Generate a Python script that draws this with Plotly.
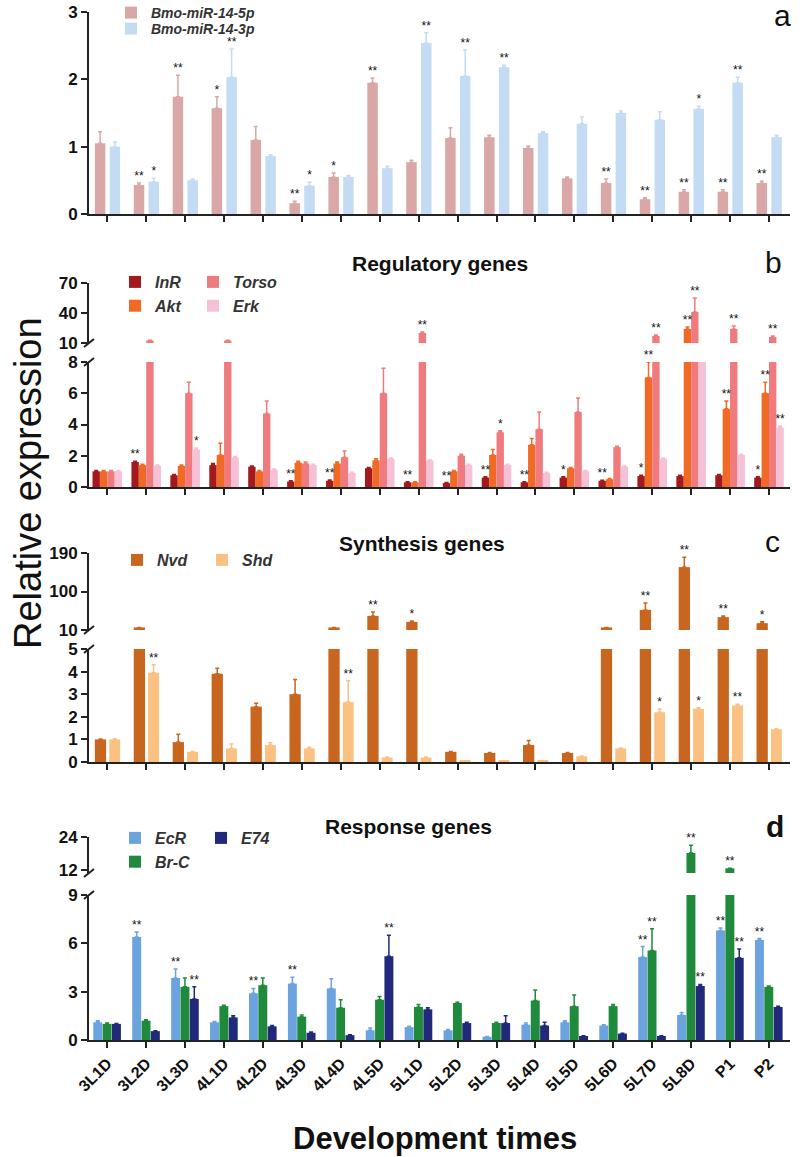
import plotly.graph_objects as go

times = ['3L1D', '3L2D', '3L3D', '4L1D', '4L2D', '4L3D', '4L4D', '4L5D', '5L1D',
         '5L2D', '5L3D', '5L4D', '5L5D', '5L6D', '5L7D', '5L8D', 'P1', 'P2']

# panel a - miRNAs
mir5p = [1.05, 0.43, 1.74, 1.57, 1.10, 0.16, 0.55, 1.95, 0.77, 1.13, 1.14, 0.98, 0.53, 0.46, 0.22, 0.33, 0.33, 0.46]
mir5p_err = [0.17, 0.03, 0.32, 0.17, 0.20, 0.03, 0.06, 0.07, 0.03, 0.15, 0.03, 0.03, 0.02, 0.06, 0.02, 0.03, 0.03, 0.03]
mir5p_sig = ['', '**', '**', '*', '', '**', '*', '**', '', '', '', '', '', '**', '**', '**', '**', '**']
mir3p = [1.00, 0.48, 0.50, 2.03, 0.86, 0.42, 0.55, 0.68, 2.54, 2.05, 2.18, 1.20, 1.34, 1.50, 1.40, 1.56, 1.95, 1.14]
mir3p_err = [0.07, 0.05, 0.02, 0.42, 0.02, 0.05, 0.02, 0.03, 0.15, 0.39, 0.03, 0.02, 0.10, 0.03, 0.12, 0.04, 0.08, 0.03]
mir3p_sig = ['', '*', '', '**', '', '*', '', '', '**', '**', '**', '', '', '', '', '*', '**', '']

# panel b - regulatory genes
inr = [1.0, 1.6, 0.75, 1.4, 1.3, 0.35, 0.4, 1.2, 0.3, 0.25, 0.6, 0.3, 0.6, 0.4, 0.7, 0.7, 0.75, 0.6]
inr_err = [0.05, 0.05, 0.05, 0.1, 0.05, 0.05, 0.05, 0.05, 0.03, 0.03, 0.05, 0.03, 0.05, 0.03, 0.05, 0.05, 0.05, 0.05]
inr_sig = ['', '**', '', '', '', '**', '**', '', '**', '**', '**', '**', '*', '**', '*', '', '', '*']
akt = [1.0, 1.4, 1.35, 2.05, 1.0, 1.55, 1.5, 1.7, 0.3, 1.0, 2.05, 2.7, 1.2, 0.5, 7.0, 24, 5.0, 6.0]
akt_err = [0.05, 0.05, 0.05, 0.75, 0.05, 0.1, 0.1, 0.1, 0.03, 0.05, 0.35, 0.4, 0.05, 0.05, 1.0, 2.0, 0.5, 0.7]
akt_sig = ['', '', '', '', '', '', '', '', '', '', '', '', '', '', '**', '**', '**', '**']
torso = [1.0, 12.5, 6.0, 12.5, 4.7, 1.5, 1.9, 6.0, 20, 2.0, 3.5, 3.7, 4.8, 2.55, 17, 41, 24, 16]
torso_err = [0.05, 0.3, 0.7, 0.3, 0.8, 0.1, 0.4, 1.6, 1.0, 0.1, 0.1, 1.1, 0.9, 0.05, 1.0, 14, 3.0, 1.0]
torso_sig = ['', '', '', '', '', '', '', '', '**', '', '*', '', '', '', '**', '**', '**', '**']
erk = [1.0, 1.35, 2.4, 1.9, 1.1, 1.4, 0.9, 1.8, 1.7, 1.4, 1.4, 0.9, 1.0, 1.3, 1.8, 9.0, 2.05, 3.8]
erk_err = [0.05, 0.05, 0.1, 0.05, 0.05, 0.05, 0.05, 0.05, 0.05, 0.05, 0.05, 0.05, 0.05, 0.05, 0.05, 0.3, 0.05, 0.1]
erk_sig = ['', '', '*', '', '', '', '', '', '', '', '', '', '', '', '', '**', '', '**']

# panel c - synthesis genes
nvd = [1.0, 16, 0.88, 3.9, 2.45, 3.0, 16, 43, 29, 0.45, 0.4, 0.75, 0.4, 16, 57, 157, 40, 26]
nvd_err = [0.02, 0, 0.35, 0.25, 0.15, 0.65, 0, 9, 2, 0.02, 0.02, 0.2, 0.02, 0, 16, 23, 3, 3]
nvd_sig = ['', '', '', '', '', '', '', '**', '*', '', '', '', '', '', '**', '**', '**', '*']
shd = [1.0, 3.95, 0.45, 0.6, 0.75, 0.6, 2.65, 0.2, 0.2, 0.05, 0.05, 0.05, 0.25, 0.6, 2.2, 2.35, 2.5, 1.45]
shd_err = [0.03, 0.35, 0.02, 0.2, 0.1, 0.05, 0.95, 0.02, 0.02, 0, 0, 0, 0.02, 0.02, 0.15, 0.05, 0.05, 0.02]
shd_sig = ['', '**', '', '', '', '', '**', '', '', '', '', '', '', '', '*', '*', '**', '']

# panel d - response genes
ecr = [1.1, 6.4, 3.85, 1.1, 2.9, 3.5, 3.2, 0.6, 0.8, 0.6, 0.2, 0.95, 1.1, 0.9, 5.15, 1.55, 6.8, 6.2]
ecr_err = [0.1, 0.3, 0.55, 0.05, 0.3, 0.4, 0.6, 0.15, 0.05, 0.05, 0.02, 0.1, 0.1, 0.05, 0.65, 0.15, 0.15, 0.1]
ecr_sig = ['', '**', '**', '', '**', '**', '', '', '', '', '', '', '', '', '**', '', '**', '**']
brc = [1.0, 1.2, 3.3, 2.1, 3.4, 1.45, 2.0, 2.5, 2.05, 2.3, 1.05, 2.45, 2.1, 2.1, 5.55, 18.2, 12.6, 3.3]
brc_err = [0.05, 0.05, 0.55, 0.05, 0.45, 0.1, 0.5, 0.2, 0.15, 0.05, 0.05, 0.65, 0.7, 0.1, 1.35, 2.8, 0, 0.05]
brc_sig = ['', '', '', '', '', '', '', '', '', '', '', '', '', '', '**', '**', '**', '']
e74 = [1.0, 0.55, 2.55, 1.4, 0.85, 0.45, 0.3, 5.2, 1.9, 1.05, 1.05, 0.9, 0.25, 0.4, 0.25, 3.35, 5.1, 2.05]
e74_err = [0.03, 0.02, 0.75, 0.1, 0.05, 0.05, 0.02, 1.3, 0.1, 0.05, 0.45, 0.2, 0.02, 0.02, 0.02, 0.1, 0.55, 0.05]
e74_sig = ['', '', '**', '', '', '', '', '**', '', '', '', '', '', '', '', '**', '**', '']

W, H = 800, 1157
FONT = 'Liberation Sans, Arial, sans-serif'
AX = '#222222'
idx = list(range(len(times)))


def px(x):
    return x / W


def py(y):
    return 1 - y / H


fig = go.Figure()

# (name, values, errors, marks, colour, left offset, width, x axis, lower y, upper y, break value, legend)
series = [
    ('Bmo-miR-14-5p', mir5p, mir5p_err, mir5p_sig, '#D9A8A6', -0.32, 0.27, 'x', 'y', None, None, 'legend'),
    ('Bmo-miR-14-3p', mir3p, mir3p_err, mir3p_sig, '#C3DCF3', 0.06, 0.27, 'x', 'y', None, None, 'legend2'),
    ('InR', inr, inr_err, inr_sig, '#A3191E', -0.38, 0.19, 'x2', 'y2', 'y3', 10, 'legend3'),
    ('Akt', akt, akt_err, akt_sig, '#F06A25', -0.19, 0.19, 'x2', 'y2', 'y3', 10, 'legend3'),
    ('Torso', torso, torso_err, torso_sig, '#EF7B7E', 0.0, 0.19, 'x2', 'y2', 'y3', 10, 'legend4'),
    ('Erk', erk, erk_err, erk_sig, '#F6C0D6', 0.19, 0.19, 'x2', 'y2', 'y3', 10, 'legend4'),
    ('Nvd', nvd, nvd_err, nvd_sig, '#C8651E', -0.32, 0.29, 'x3', 'y4', 'y5', 10, 'legend5'),
    ('Shd', shd, shd_err, shd_sig, '#FBC183', 0.05, 0.28, 'x3', 'y4', 'y5', 10, 'legend5'),
    ('EcR', ecr, ecr_err, ecr_sig, '#6BA3DF', -0.36, 0.23, 'x4', 'y6', 'y7', 11, 'legend6'),
    ('Br-C', brc, brc_err, brc_sig, '#1F8A3C', -0.12, 0.23, 'x4', 'y6', 'y7', 11, 'legend6'),
    ('E74', e74, e74_err, e74_sig, '#20297A', 0.12, 0.23, 'x4', 'y6', 'y7', 11, 'legend7'),
]

for name, vals, errs, sigs, col, off, wd, xa, ylo, yup, brk, lg in series:
    err = dict(type='data', array=errs, arrayminus=[0] * len(errs), symmetric=False,
               color=col, thickness=1.5, width=2)
    fig.add_trace(go.Bar(x=idx, y=vals, offset=off, width=wd, marker_color=col, marker_line_width=0,
                         error_y=err, name='<b><i>' + name + '</i></b>', legend=lg,
                         xaxis=xa, yaxis=ylo, hoverinfo='skip'))
    if yup:
        fig.add_trace(go.Bar(x=idx, y=vals, offset=off, width=wd, marker_color=col, marker_line_width=0,
                             error_y=err, showlegend=False, xaxis=xa, yaxis=yup, hoverinfo='skip'))
    # significance marks
    lo_x, lo_y, lo_t, up_x, up_y, up_t = [], [], [], [], [], []
    for i, (v, e, s) in enumerate(zip(vals, errs, sigs)):
        if not s:
            continue
        top = v + e
        if yup and top > brk:
            up_x.append(i + off + wd / 2); up_y.append(top); up_t.append(s)
        else:
            lo_x.append(i + off + wd / 2); lo_y.append(top); lo_t.append(s)
    for xs, ys, ts, ya in ((lo_x, lo_y, lo_t, ylo), (up_x, up_y, up_t, yup)):
        if xs:
            fig.add_trace(go.Scatter(x=xs, y=ys, text=ts, mode='text', textposition='top center',
                                     textfont=dict(family=FONT, size=12, color='#111'),
                                     cliponaxis=False, showlegend=False, hoverinfo='skip',
                                     xaxis=xa, yaxis=ya))

tickfont = dict(family=FONT, size=17, color='#111', weight='bold')
X0, X1 = 89, 790


def yaxis(bottom, top, rng, ticks, anchor):
    return dict(domain=[py(bottom), py(top)], range=rng, tickvals=ticks, anchor=anchor, automargin=False,
                showline=True, linecolor=AX, linewidth=2, ticks='outside', ticklen=6,
                tickwidth=2, tickcolor=AX, tickfont=tickfont, showgrid=False, zeroline=False)


def xaxis(anchor, labels=False):
    d = dict(domain=[px(X0), px(X1)], range=[-0.47, 17.54], tickvals=idx, anchor=anchor, automargin=False,
             showline=True, linecolor=AX, linewidth=2, ticks='outside', ticklen=6,
             tickwidth=2, tickcolor=AX, showgrid=False, zeroline=False, showticklabels=labels)
    if labels:
        d.update(ticktext=times, tickangle=-45,
                 tickfont=dict(family=FONT, size=16, color='#111', weight='bold'))
    return d


def legend(x, y, size=16):
    return dict(x=px(x), y=py(y), xanchor='left', yanchor='top', bgcolor='rgba(0,0,0,0)',
                font=dict(family=FONT, size=size, color='#333'), tracegroupgap=0, itemclick=False)


fig.update_layout(
    width=W, height=H, margin=dict(l=0, r=0, t=0, b=0, autoexpand=False),
    plot_bgcolor='white', paper_bgcolor='white', barmode='overlay', showlegend=True,
    xaxis=xaxis('y'), xaxis2=xaxis('y2'), xaxis3=xaxis('y4'), xaxis4=xaxis('y6', True),
    yaxis=yaxis(214, 12, [0, 3], [0, 1, 2, 3], 'x'),
    yaxis2=yaxis(487, 362, [0, 8], [0, 2, 4, 6, 8], 'x2'),
    yaxis3=yaxis(343, 283, [10, 70], [10, 40, 70], 'x2'),
    yaxis4=yaxis(762, 649, [0, 5], [0, 1, 2, 3, 4, 5], 'x3'),
    yaxis5=yaxis(630, 553, [10, 190], [10, 100, 190], 'x3'),
    yaxis6=yaxis(1040, 895, [0, 9], [0, 3, 6, 9], 'x4'),
    yaxis7=yaxis(873, 837, [10.9, 24], [12, 24], 'x4'),
    legend=legend(111, -3, 14), legend2=legend(111, 13, 14),
    legend3=legend(115, 265), legend4=legend(193, 265),
    legend5=dict(legend(117, 543), orientation='h', entrywidth=40),
    legend6=legend(115, 821), legend7=legend(201, 821),
)

# break marks on the split axes
for ylo, yhi in ((362, 343), (649, 630), (895, 873)):
    for yy in (ylo, yhi):
        fig.add_shape(type='line', xref='paper', yref='paper', x0=px(X0 - 5), y0=py(yy + 4),
                      x1=px(X0 + 5), y1=py(yy - 4), line=dict(color=AX, width=2))

titles = [('Regulatory genes', 440, 263), ('Synthesis genes', 422, 543), ('Response genes', 408, 826)]
for t, x, y in titles:
    fig.add_annotation(text='<b>' + t + '</b>', x=px(x), y=py(y), xref='paper', yref='paper',
                       xanchor='center', yanchor='middle', showarrow=False,
                       font=dict(family=FONT, size=21, color='#111'))

for t, x, y, b in (('a', 782, 15, False), ('b', 773, 262, False), ('c', 772, 541, False), ('d', 775, 826, True)):
    fig.add_annotation(text='<b>%s</b>' % t if b else t, x=px(x), y=py(y), xref='paper', yref='paper',
                       xanchor='center', yanchor='middle', showarrow=False,
                       font=dict(family=FONT, size=30, color='#111'))

fig.add_annotation(text='Relative expression', x=px(28), y=py(483), xref='paper', yref='paper',
                   xanchor='center', yanchor='middle', showarrow=False, textangle=-90,
                   font=dict(family=FONT, size=38, color='#111'))
fig.add_annotation(text='<b>Development times</b>', x=px(435), y=py(1138), xref='paper', yref='paper',
                   xanchor='center', yanchor='middle', showarrow=False,
                   font=dict(family=FONT, size=31, color='#111'))

# drop the default page margin so the figure sits at the window corner; no modebar
fig.write_html('out.html', config={'displayModeBar': False},
               post_script="document.body.style.margin = '0';")
